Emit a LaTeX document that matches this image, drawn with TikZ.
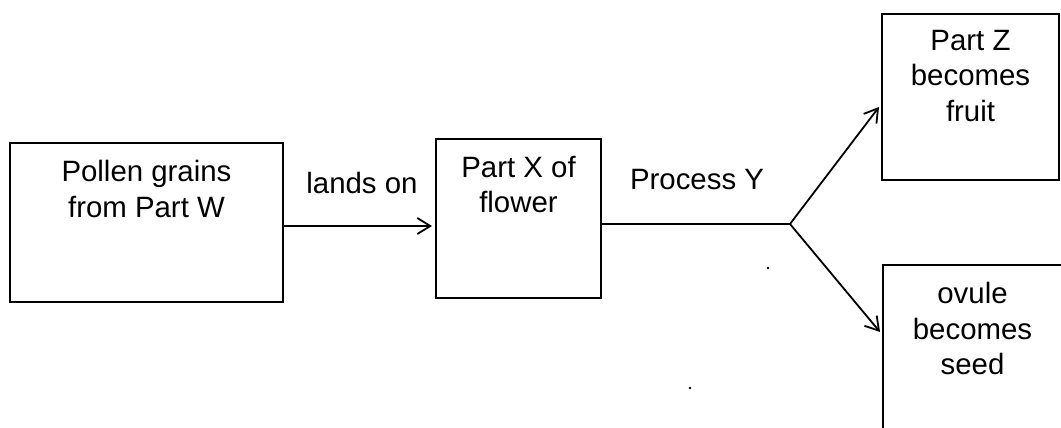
\documentclass[tikz,border=0pt]{standalone}
\usepackage{fontspec}
\setmainfont{Liberation Sans}
\usetikzlibrary{arrows.meta}
\begin{document}
\begin{tikzpicture}[x=1pt,y=-1pt,
  box/.style={draw, line width=2pt, inner sep=0pt},
  txt/.style={align=center, inner sep=0pt, font=\fontsize{29.4}{35.5}\selectfont},
  conn/.style={line width=1.8pt},
  arr/.style={conn, -{Straight Barb[length=13pt,width=16pt,line width=1.8pt]}},
  speck/.style={fill=black}]
\useasboundingbox (0,0) rectangle (1061,428);
\clip (0,0) rectangle (1061,428);
% boxes
\node[box, minimum width=273pt, minimum height=159pt] (w) at (146.5,222.5) {};
\node[box, minimum width=165pt, minimum height=159pt] (x) at (518.5,218.5) {};
\node[box, minimum width=177pt, minimum height=166pt] (z) at (970.5,97) {};
\node[box, minimum width=179pt, minimum height=200pt] (s) at (972.5,365) {};
% box texts
\node[txt, anchor=north] (wt) at ([yshift=-18pt]w.north) {Pollen grains\\from Part W};
\node[txt, anchor=north] (xt) at ([yshift=-18pt]x.north) {Part X of\\flower};
\node[txt, anchor=north] (zt) at ([yshift=-17pt]z.north) {Part Z\\becomes\\fruit};
\node[txt, anchor=north] (st) at ([yshift=-18pt]s.north) {ovule\\becomes\\seed};
% connectors
\coordinate (lvl1) at (0,226);
\coordinate (br) at (790,224);
\coordinate (tz) at (0,107);
\coordinate (ts) at (0,332);
\draw[arr] (w.east |- lvl1) -- ([xshift=-3pt]x.west |- lvl1);
\draw[conn] (x.east |- br) -- (br);
\draw[arr] (br) -- ([xshift=-2pt]z.west |- tz);
\draw[arr] (br) -- ([xshift=-2pt]s.west |- ts);
% connector labels
\node[txt] (lo) at (362,183) {lands on};
\node[txt] (py) at (697,180) {Process Y};
% specks
\fill[speck] (768,268) circle (1.3pt);
\fill[speck] (690,388) circle (1.3pt);
\end{tikzpicture}
\end{document}
